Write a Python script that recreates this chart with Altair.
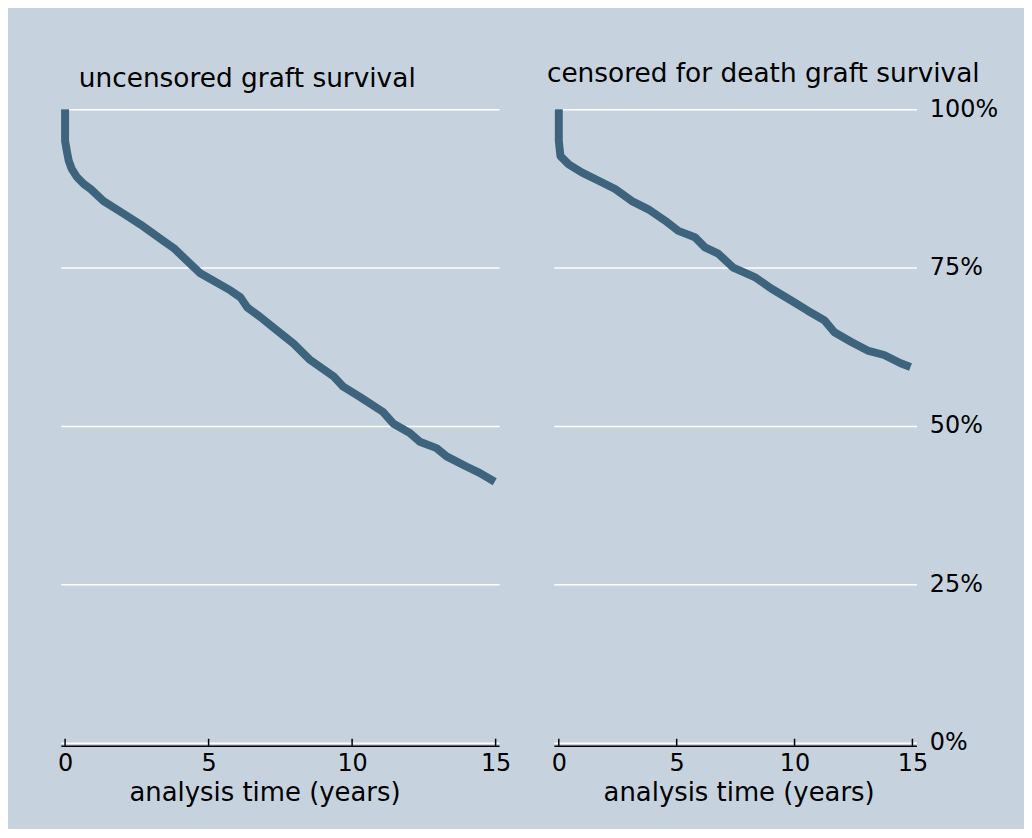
import altair as alt
import pandas as pd

# ---- data (analysis time in years, survival in %) ----
left_title = "uncensored graft survival"
right_title = "censored for death graft survival"
x_title = "analysis time (years)"
x_ticks = [0, 5, 10, 15]
y_ticks = [0, 25, 50, 75, 100]

left_t = [0, 0, 0.06, 0.13, 0.23, 0.41, 0.65, 0.89, 1.34, 2.04, 2.63, 3.43, 3.78,
          4.71, 5.76, 6.11, 6.35, 6.80, 7.38, 7.96, 8.54, 9.36, 9.69, 10.27, 11.08,
          11.43, 12.01, 12.36, 12.94, 13.29, 13.98, 14.44, 14.97]
left_s = [100, 95.0, 93.4, 91.8, 90.6, 89.3, 88.2, 87.4, 85.5, 83.5, 81.8, 79.2, 78.1,
          74.1, 71.4, 70.3, 68.7, 67.2, 65.1, 63.0, 60.4, 57.8, 56.2, 54.6, 52.2,
          50.4, 48.9, 47.5, 46.5, 45.2, 43.6, 42.6, 41.2]

right_t = [0, 0, 0.07, 0.42, 0.99, 1.69, 2.39, 3.10, 3.80, 4.51, 5.07, 5.77, 6.20,
           6.76, 7.40, 8.31, 9.01, 9.86, 10.56, 11.26, 11.69, 12.39, 13.10, 13.80,
           14.50, 14.92]
right_s = [100, 95.0, 92.6, 91.3, 90.0, 88.7, 87.4, 85.5, 84.2, 82.4, 80.8, 79.8, 78.2,
           77.2, 75.0, 73.5, 71.7, 69.8, 68.2, 66.7, 64.8, 63.3, 61.9, 61.2,
           59.9, 59.3]

BG = "#c6d3df"
LINE = "#3e647d"
FONT = "DejaVu Sans"
H = 636


def panel(t, s, title, title_dx, title_offset, width, xdomain, right_labels, title_x):
    df = pd.DataFrame({"t": t, "s": s, "i": list(range(len(t)))})
    tick_df = pd.DataFrame({"t": x_ticks})
    if right_labels:
        yaxis = alt.Axis(values=y_ticks, orient="right", grid=True, gridColor="white",
                         gridWidth=1.5, gridOpacity=1, ticks=False, domain=False,
                         labelExpr="datum.value + '%'", labelFontSize=24, labelFont=FONT,
                         labelColor="black", labelPadding=13, title=None)
    else:
        yaxis = alt.Axis(values=y_ticks, grid=True, gridColor="white", gridWidth=1.5,
                         gridOpacity=1, ticks=False, domain=False, labels=False, title=None)
    xaxis = alt.Axis(values=x_ticks, ticks=False, grid=False, domainColor="black",
                     domainWidth=1.5, offset=3, labelFontSize=24, labelFont=FONT,
                     labelColor="black", labelPadding=6, labelFlush=False,
                     title=x_title, titleFontSize=26, titleFont=FONT,
                     titleFontWeight="normal", titleColor="black", titlePadding=4,
                     titleX=title_x, titleAlign="center")
    xscale = alt.Scale(domain=xdomain, nice=False, zero=False)
    line = alt.Chart(df).mark_line(color=LINE, strokeWidth=8, strokeJoin="round").encode(
        x=alt.X("t:Q", scale=xscale, axis=xaxis),
        y=alt.Y("s:Q", scale=alt.Scale(domain=[0, 100], nice=False), axis=yaxis),
        order="i:Q",
    )
    ticks = alt.Chart(tick_df).mark_rule(color="black", strokeWidth=1.5).encode(
        x=alt.X("t:Q", scale=xscale, axis=xaxis),
        y=alt.value(H + 3),
        y2=alt.value(H - 4),
    )
    return alt.layer(line, ticks).properties(
        width=width, height=H,
        title=alt.TitleParams(text=title, anchor="start", frame="group", dx=title_dx,
                              offset=title_offset, fontSize=26.5, font=FONT,
                              fontWeight="normal", color="black"),
    )


left = panel(left_t, left_s, left_title, 18, 13, 440, [-0.15, 15.12], False, 204.5)
right = panel(right_t, right_s, right_title, -7, 10, 364, [-0.21, 15.17], True, 185.5)

chart = alt.hconcat(left, right, spacing=55, bounds="flush").configure_view(
    stroke=None
).properties(
    background=BG,
    padding={"left": 49, "top": 51, "right": 26, "bottom": 22},
)

chart.save("out.html", embed_options={"renderer": "svg", "actions": False})
